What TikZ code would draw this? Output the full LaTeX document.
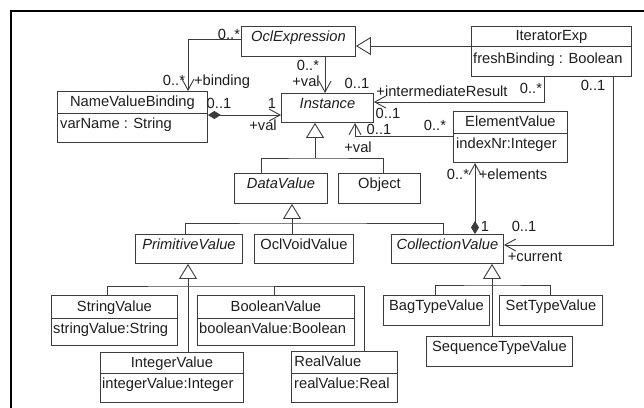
\documentclass[tikz,border=0pt]{standalone}
\usepackage{fontspec}
\setmainfont{Liberation Sans}
\usetikzlibrary{arrows.meta}
\definecolor{ink}{HTML}{1E1E1E}
\definecolor{edge}{HTML}{3C3C3C}
\newcommand\umlfont{\fontsize{14.7pt}{17pt}\selectfont}

\begin{document}
\begin{tikzpicture}[x=1pt, y=-1pt,
  cls/.style={draw=edge, line width=0.9pt, inner sep=0pt, anchor=north west, font=\umlfont, text=ink},
  single/.style={cls, text height=11pt, text depth=10pt},
  hdr/.style={cls, text height=11pt, text depth=2pt},
  attrbox/.style={cls},
  txt/.style={inner sep=0pt, font=\umlfont, text=ink, text height=10.5pt, text depth=0pt},
  attr/.style={txt, anchor=west},
  wire/.style={draw=edge, line width=0.9pt},
  nav/.style={wire, -{Straight Barb[length=11pt, width=12pt]}},
  gen/.style={wire, -{Triangle[open, length=15pt, width=18pt, fill=white]}},
  comp/.style={wire, {Diamond[length=13pt, width=8pt]}-{Straight Barb[length=11pt, width=12pt]}},
  frame/.style={draw=black, line width=2pt}]

\useasboundingbox[fill=white] (0,0) rectangle (644,407);

% outer frame
\draw[frame] (11,420) -- (11,11) -- (660,11);

% classes
\node[single, minimum width=114pt, minimum height=30pt] (ocl) at (241,26) {\itshape OclExpression};

\node[hdr, minimum width=160pt, minimum height=20pt] (it) at (471,26) {IteratorExp};
\node[attrbox, minimum width=160pt, minimum height=30pt] (itA) at (471,46) {};
\node[attr] (itAt) at (473,58) {freshBinding : Boolean};

\node[hdr, minimum width=150pt, minimum height=22pt] (nvb) at (57,91) {NameValueBinding};
\node[attrbox, minimum width=150pt, minimum height=29pt] (nvbA) at (57,113) {};
\node[attr] (nvbAt) at (60,123) {varName : String};

\node[single, minimum width=92pt, minimum height=29pt] (inst) at (281,93) {\itshape Instance};

\node[hdr, minimum width=114pt, minimum height=22pt] (ev) at (453,111) {ElementValue};
\node[attrbox, minimum width=114pt, minimum height=29pt] (evA) at (453,133) {};
\node[attr] (evAt) at (456,143) {indexNr:Integer};

\node[single, minimum width=93pt, minimum height=30pt] (dv) at (234,173) {\itshape DataValue};
\node[single, minimum width=82pt, minimum height=30pt] (obj) at (338,173) {Object};

\node[single, minimum width=107pt, minimum height=29pt] (pv) at (135,234) {\itshape PrimitiveValue};
\node[single, minimum width=99pt, minimum height=29pt] (ov) at (254,234) {OclVoidValue};
\node[single, minimum width=112pt, minimum height=29pt] (cv) at (391,234) {\itshape CollectionValue};

\node[hdr, minimum width=126pt, minimum height=23pt] (sv) at (51,295) {StringValue};
\node[attrbox, minimum width=126pt, minimum height=27pt] (svA) at (51,318) {};
\node[attr] (svAt) at (53,328) {stringValue:String};

\node[hdr, minimum width=157pt, minimum height=23pt] (bv) at (197,295) {BooleanValue};
\node[attrbox, minimum width=157pt, minimum height=27pt] (bvA) at (197,318) {};
\node[attr] (bvAt) at (199,328) {booleanValue:Boolean};

\node[hdr, minimum width=143pt, minimum height=21pt] (iv) at (100,352) {IntegerValue};
\node[attrbox, minimum width=143pt, minimum height=29pt] (ivA) at (100,373) {};
\node[attr] (ivAt) at (102,383) {integerValue:Integer};

\node[hdr, minimum width=106pt, minimum height=22pt, text width=100pt, align=left, inner xsep=3pt] (rv) at (291,351) {RealValue};
\node[attrbox, minimum width=106pt, minimum height=29pt] (rvA) at (291,373) {};
\node[attr] (rvAt) at (294,383) {realValue:Real};

\node[single, minimum width=106pt, minimum height=30pt] (bag) at (383,295) {BagTypeValue};
\node[single, minimum width=103pt, minimum height=30pt] (set) at (499,295) {SetTypeValue};
\node[single, minimum width=146pt, minimum height=30pt] (seq) at (426,336) {SequenceTypeValue};

% associations
\draw[nav] (ocl.west |- 0,39) -| (nvb.north -| 188,0);
\draw[nav] (ocl.south -| 325,0) -- (inst.north -| 325,0);
\draw[nav] (itA.south -| 544,0) |- (inst.east |- 0,102);
\draw[comp] (nvbA.east |- 0,115) -- (inst.west |- 0,115);
\draw[nav] (evA.west |- 0,136) -| (inst.south -| 355,0);
\draw[comp] (cv.north -| 475,0) -- (evA.south -| 475,0);
\draw[nav] (itA.south -| 613,0) |- (cv.east |- 0,245);

% generalizations
\draw[gen] (it.west |- 0,46) -- (ocl.east |- 0,46);

\coordinate (j1) at (315,158);
\draw[wire] (dv.north -| 261,0) |- (j1) -| (obj.north -| 383,0);
\draw[gen] (j1) -- (inst.south -| 315,0);

\coordinate (j2) at (292,223);
\draw[wire] (pv.north -| 185,0) |- (j2) -| (cv.north -| 443,0);
\draw[gen] (ov.north -| 292,0) -- (dv.south -| 292,0);

\coordinate (j3) at (188,286);
\coordinate (j3b) at (274,286);
\draw[wire] (sv.north -| 107,0) |- (j3) -| (rv.north -| 364,0);
\draw[wire] (bv.north -| 274,0) -- (j3b);
\draw[gen] (iv.north -| 188,0) -- (pv.south -| 188,0);

\coordinate (j4) at (492,285);
\draw[wire] (bag.north -| 435,0) |- (j4) -| (set.north -| 550,0);
\draw[gen] (seq.north -| 492,0) -- (cv.south -| 492,0);

% role names and multiplicities
\node[txt] (m1) at (229,34) {0..*};
\node[txt] (m2) at (174,80) {0..*};
\node[txt] (r1) at (222,80) {+binding};
\node[txt] (m3) at (308,65) {0..*};
\node[txt] (r2) at (306,81) {+val};
\node[txt] (m4) at (357,83) {0..1};
\node[txt] (m5) at (219,103) {0..1};
\node[txt] (m6) at (272,103) {1};
\node[txt] (r3) at (263,125) {+val};
\node[txt] (r4) at (442,91) {+intermediateResult};
\node[txt] (m7) at (388,113) {0..1};
\node[txt] (m8) at (531,88) {0..*};
\node[txt] (m9) at (593,85) {0..1};
\node[txt] (m10) at (379,129) {0..1};
\node[txt] (m11) at (435,125) {0..*};
\node[txt] (r5) at (358,147) {+val};
\node[txt] (m12) at (458,174) {0..*};
\node[txt] (r6) at (513,174) {+elements};
\node[txt] (m13) at (485,226) {1};
\node[txt] (m14) at (524,226) {0..1};
\node[txt] (r7) at (535,256) {+current};
\end{tikzpicture}
\end{document}
